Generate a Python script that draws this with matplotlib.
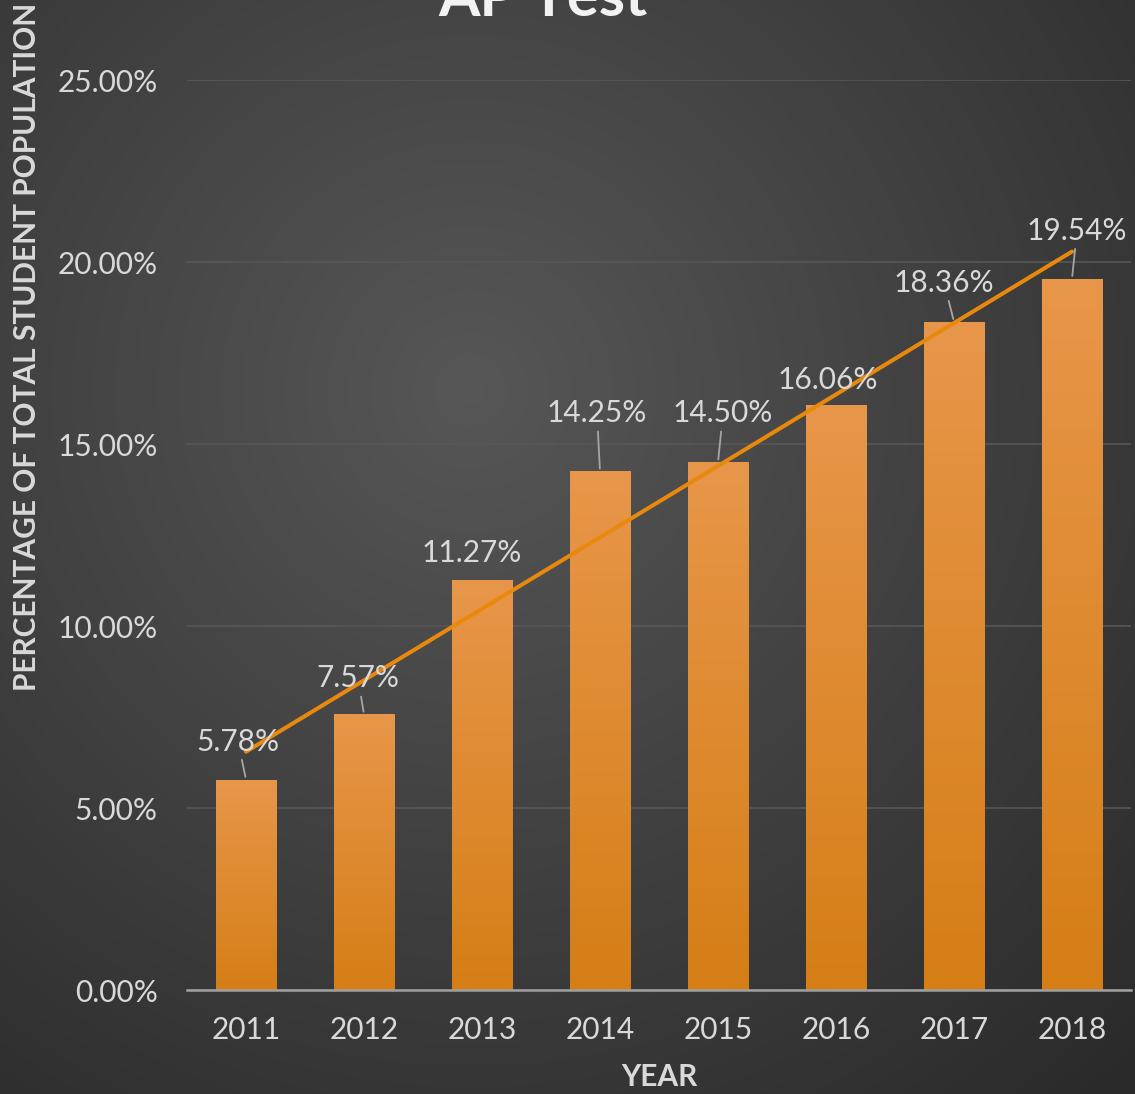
import numpy as np
import matplotlib
matplotlib.use('Agg')
import matplotlib.pyplot as plt
from matplotlib.colors import LinearSegmentedColormap
from matplotlib.ticker import FuncFormatter

# chart data
years = ['2011', '2012', '2013', '2014', '2015', '2016', '2017', '2018']
percent = [5.78, 7.57, 11.27, 14.25, 14.50, 16.06, 18.36, 19.54]
y_ticks = [0, 5, 10, 15, 20, 25]

# label placement relative to bar top, in pixels (dx, dy)
label_offsets = [(-8, 38), (-6, 36), (-10, 27), (-3, 58), (5, 49), (-8, 25), (-10, 39), (5, 48)]

plt.rcParams['font.family'] = ['Lato', 'DejaVu Sans']

W, H = 1135, 1094
fig = plt.figure(figsize=(W / 100, H / 100), dpi=100)

# radial background
bg = fig.add_axes([0, 0, 1, 1], zorder=0)
yy, xx = np.mgrid[0:H, 0:W]
d = np.sqrt((xx - 470) ** 2 + (yy - 390) ** 2) / 950.0
shade = 0.34 - 0.175 * np.clip(d, 0, 1)
bg.imshow(np.dstack([shade, shade, shade]), extent=[0, W, H, 0], aspect='auto')
bg.set_xlim(0, W)
bg.set_ylim(H, 0)
bg.axis('off')

ax = fig.add_axes([187 / W, (H - 990) / H, 944 / W, 910 / H], zorder=1)
ax.set_facecolor('none')
x = np.arange(len(years))

bars = ax.bar(x, percent, width=0.51, color='none', edgecolor='none', zorder=3)

# vertical gradient inside each bar
grad_cmap = LinearSegmentedColormap.from_list('barfill', ['#D57E16', '#E8964A'])
grad = np.linspace(0, 1, 256).reshape(-1, 1)
for b in bars:
    bx, by = b.get_x(), b.get_y()
    im = ax.imshow(grad, cmap=grad_cmap, origin='lower', aspect='auto',
                   extent=[bx, bx + b.get_width(), by, by + b.get_height()], zorder=3)
    im.set_clip_path(b)

# linear trend line
coef = np.polyfit(x, percent, 1)
ax.plot(x, np.polyval(coef, x), color='#E8890E', linewidth=2.9, zorder=5,
        solid_capstyle='round')

# data labels
for i, v in enumerate(percent):
    dx, dy = label_offsets[i]
    arrow = dict(arrowstyle='-', color='#A6A6A6', lw=1.3, shrinkA=1, shrinkB=2) if dy > 30 else None
    ax.annotate(f'{v:.2f}%', xy=(x[i], v), xytext=(dx, dy), textcoords='offset pixels',
                ha='center', va='center', fontsize=21.5, color='#D9D9D9',
                arrowprops=arrow, zorder=6)

ax.set_xlim(-0.5, len(years) - 0.5)
ax.set_ylim(0, 25)
ax.set_xticks(x)
ax.set_xticklabels(years)
ax.set_yticks(y_ticks)
ax.yaxis.set_major_formatter(FuncFormatter(lambda v, p: f'{v:.2f}%'))
ax.tick_params(axis='both', length=0, colors='#D9D9D9', labelsize=21.5)
ax.tick_params(axis='y', pad=21)
ax.tick_params(axis='x', pad=19)

ax.grid(axis='y', color='#575757', linewidth=1.2, zorder=1)
ax.set_axisbelow(True)
for s in ['top', 'right', 'left']:
    ax.spines[s].set_visible(False)
ax.spines['bottom'].set_color('#A0A0A0')
ax.spines['bottom'].set_linewidth(1.8)
ax.spines['bottom'].set_zorder(4)

ax.text(-0.1696, 0.7066, 'PERCENTAGE OF TOTAL STUDENT POPULATION', transform=ax.transAxes,
        rotation=90, ha='center', va='center', fontsize=21.5, fontweight='bold', color='#D9D9D9')
fig.text(659 / W, 1 - 1077 / H, 'YEAR', ha='center', va='center', fontsize=21.5,
         fontweight='bold', color='#D9D9D9')

fig.text(543 / W, 1 - 16 / H, 'AP Test', ha='center', va='baseline', fontsize=43,
         fontweight='bold', color='#F2F2F2')

fig.savefig('out.png', dpi=100)
